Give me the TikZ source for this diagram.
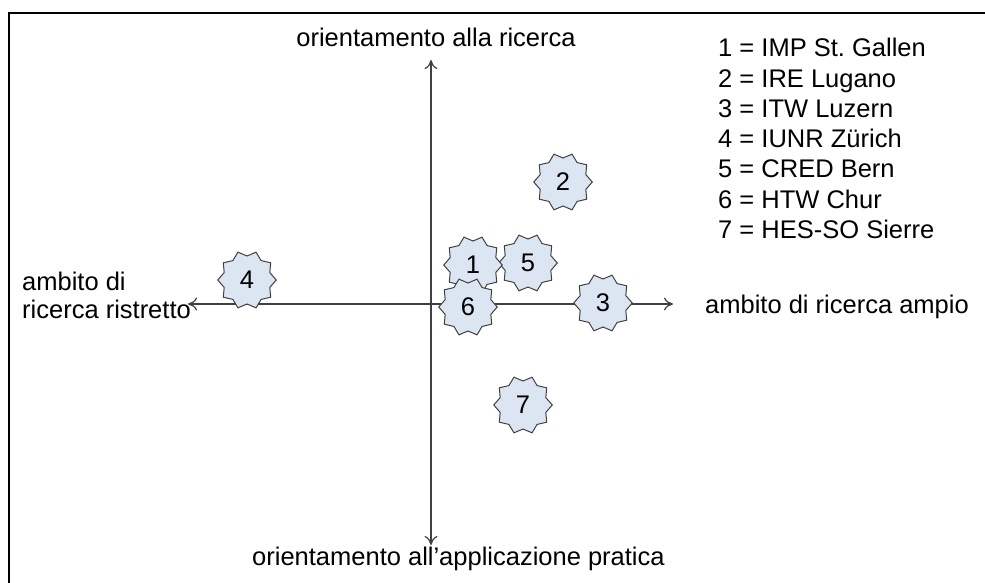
\documentclass[tikz,border=0pt]{standalone}
\usepackage{fontspec}
\setmainfont{Liberation Sans}
\usetikzlibrary{shapes.geometric,arrows.meta}
\definecolor{starfill}{HTML}{DCE6F2}
\definecolor{linegray}{HTML}{404040}
\frenchspacing
\begin{document}
\begin{tikzpicture}[x=1pt,y=-1pt,
 seal/.style={star,star points=10,star point ratio=0.82,minimum size=48pt,inner sep=0pt,fill=starfill,draw=linegray,line width=1pt,font=\fontsize{25.5}{30}\selectfont},
 axisline/.style={draw=linegray,line width=1.2pt,{To[length=9pt,width=13pt]}-{To[length=9pt,width=13pt]}},
 lbl/.style={inner sep=0pt,font=\fontsize{25.5}{28}\selectfont}]
\useasboundingbox (0,0) rectangle (985,583);
\draw[line width=2pt] (9,583) -- (9,13) -- (985,13);
% axes
\coordinate (T) at (431,60);
\coordinate (B) at (431,545);
\coordinate (L) at (188,304);
\coordinate (R) at (673,304);
\draw[axisline] (L) -- (R);
\draw[axisline] (T) -- (B);
% axis labels
\node[lbl,anchor=base] (top) at (436,47) {orientamento alla ricerca};
\node[lbl,anchor=base west] (bot) at (252,565) {orientamento all’applicazione pratica};
\node[lbl,anchor=base west] (right) at (705,313) {ambito di ricerca ampio};
\node[lbl,anchor=base west] (left1) at (22,290) {ambito di};
\node[lbl,anchor=base west] (left2) at (22,318) {ricerca ristretto};
% stars
\node[seal] (s4) at (247,280) {4};
\node[seal] (s2) at (563,182) {2};
\node[seal] (s5) at (528,263) {5};
\node[seal] (s3) at (603,303) {3};
\node[seal] (s7) at (523,405) {7};
\node[seal] (s1) at (473,265) {1};
\node[seal] (s6) at (468,307) {6};
% legend
\foreach \i/\t [count=\k from 0] in {1/IMP St. Gallen,2/IRE Lugano,3/ITW Luzern,4/IUNR Zürich,5/CRED Bern,6/HTW Chur,7/HES-SO Sierre}
  \node[lbl,anchor=base west] (leg\i) at (718,57+30.2*\k) {\i\ = \t};
\end{tikzpicture}
\end{document}
